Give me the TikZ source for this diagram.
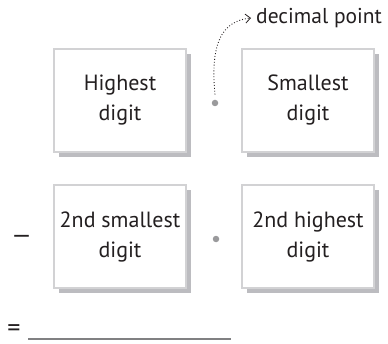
\documentclass[tikz,border=0pt]{standalone}
\usepackage{fontspec}
\setmainfont{PT Sans}
\usetikzlibrary{arrows.meta,shadows}
\definecolor{boxrule}{HTML}{D2D2D4}
\definecolor{boxshade}{HTML}{BCBCC0}
\definecolor{pointgray}{HTML}{9A9A9C}
\definecolor{ink}{HTML}{231F20}
\definecolor{rulegray}{HTML}{808082}
\begin{document}
\begin{tikzpicture}[x=1pt,y=1pt,
  digitbox/.style={draw=boxrule, line width=1.6pt, fill=white,
    minimum width=132pt, minimum height=103pt, inner sep=0pt,
    align=center, text=ink, font=\fontsize{22}{30}\selectfont,
    drop shadow={shadow xshift=5pt, shadow yshift=-5pt,
      fill=boxshade, opacity=1}},
  point/.style={circle, fill=pointgray, minimum size=6.5pt, inner sep=0pt},
  labeltext/.style={text=ink, font=\fontsize{21.5}{24}\selectfont, inner sep=0pt},
  symbol/.style={text=ink, inner sep=0pt},
  pointer/.style={ink, line width=0.9pt, dotted,
    -{Straight Barb[length=5pt,width=9pt,line width=0.8pt]}},
  answerline/.style={rulegray, line width=2pt}]
\useasboundingbox (0,0) rectangle (388,343);

% the four digit boxes
\node[digitbox] (high)   at (120,242.5) {Highest\\digit};
\node[digitbox] (small)  at (308,242.5) {Smallest\\digit};
\node[digitbox] (small2) at (120,106.5) {2nd smallest\\digit};
\node[digitbox] (high2)  at (308,106.5) {2nd highest\\digit};

% decimal points between the boxes
\node[point] (p1) at (215,240) {};
\node[point] (p2) at (216,104) {};

% label with its dotted pointer
\node[labeltext, anchor=west] (dp) at (256,325) {decimal point};
\draw[pointer] ([yshift=5pt]p1.north) .. controls (210,300) and (222,322) .. ([xshift=-5pt]dp.west);

% operator signs and the answer blank
\node[symbol, font=\fontsize{25}{28}\selectfont] (minus) at (21.5,104) {—};
\node[symbol, font=\fontsize{26}{30}\selectfont] (eq) at (14,12) {=};
\coordinate (blank start) at (28,4.5);
\coordinate (blank end) at (231,4.5);
\draw[answerline] (blank start) -- (blank end);
\end{tikzpicture}
\end{document}
